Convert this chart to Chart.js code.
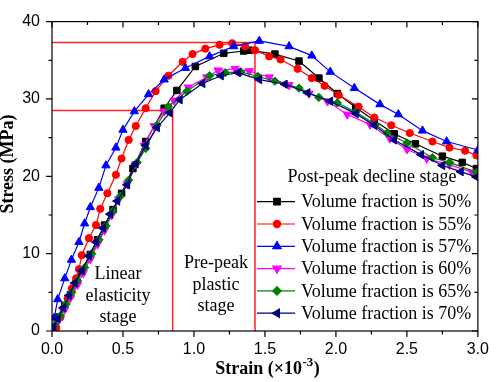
<!DOCTYPE html>
<html>
<head>
<meta charset="utf-8">
<script src="https://cdn.jsdelivr.net/npm/chart.js@4.4.0/dist/chart.umd.min.js"></script>
<style>
    html, body { margin: 0; padding: 0; background: #fff; }
    #wrap { width: 498px; height: 382px; position: relative; }
</style>
</head>
<body>
<div id="wrap"><canvas id="chart"></canvas></div>
<script>
// Stress-strain curves, strain in 10^-3, stress in MPa
const seriesLabels = [
    "Volume fraction is 50%",
    "Volume fraction is 55%",
    "Volume fraction is 57%",
    "Volume fraction is 60%",
    "Volume fraction is 65%",
    "Volume fraction is 70%",
];

const strain50 = [0.02, 0.05, 0.09, 0.13, 0.17, 0.21, 0.27, 0.32, 0.37, 0.43, 0.49, 0.57, 0.66, 0.79, 0.88, 1.01, 1.21, 1.35, 1.39, 1.57, 1.74, 1.88, 2.01, 2.14, 2.27, 2.41, 2.56, 2.75, 2.89, 2.99];
const stress50 = [0.5, 1.8, 3.3, 4.7, 6.2, 7.7, 9.9, 11.8, 13.7, 15.7, 17.8, 21.0, 24.5, 28.8, 31.1, 34.2, 35.9, 36.2, 36.3, 35.8, 34.9, 32.7, 30.7, 28.9, 27.2, 25.5, 24.2, 22.6, 21.8, 21.0];

const strain55 = [0.03, 0.06, 0.08, 0.11, 0.14, 0.17, 0.19, 0.21, 0.26, 0.31, 0.34, 0.39, 0.45, 0.49, 0.54, 0.59, 0.66, 0.73, 0.82, 0.92, 0.99, 1.08, 1.18, 1.27, 1.36, 1.43, 1.53, 1.61, 1.73, 1.83, 1.92, 2.02, 2.16, 2.27, 2.39, 2.52, 2.68, 2.80, 2.91, 2.99];
const stress55 = [0.4, 1.8, 2.9, 4.2, 5.5, 6.8, 8.0, 9.8, 12.0, 13.7, 15.8, 17.8, 20.2, 22.3, 24.7, 26.5, 28.8, 31.0, 33.0, 34.8, 35.8, 36.5, 37.0, 37.2, 36.8, 36.3, 35.5, 35.1, 33.9, 32.7, 31.7, 30.5, 29.0, 27.6, 26.6, 25.6, 24.5, 23.7, 23.3, 22.7];

const strain57 = [0.016, 0.04, 0.09, 0.137, 0.19, 0.23, 0.27, 0.33, 0.38, 0.45, 0.50, 0.58, 0.68, 0.79, 0.94, 1.11, 1.28, 1.46, 1.67, 1.83, 1.96, 2.13, 2.31, 2.44, 2.61, 2.78, 3.0];
const stress57 = [1.7, 4.1, 6.8, 9.2, 11.5, 13.9, 16.0, 18.5, 21.4, 23.7, 26.0, 28.4, 30.6, 32.5, 34.0, 35.5, 36.8, 37.5, 36.8, 35.6, 33.5, 31.4, 29.3, 28.0, 25.9, 24.5, 23.4];

const strain60 = [0.02, 0.05, 0.09, 0.13, 0.18, 0.22, 0.27, 0.32, 0.37, 0.42, 0.47, 0.53, 0.59, 0.65, 0.72, 0.79, 0.86, 0.96, 1.09, 1.17, 1.29, 1.39, 1.53, 1.67, 1.81, 1.94, 2.08, 2.24, 2.38, 2.50, 2.64, 2.80, 2.96];
const stress60 = [0.6, 1.5, 2.8, 4.3, 6.0, 7.5, 9.3, 11.2, 13.0, 15.0, 17.0, 19.0, 21.6, 24.0, 26.5, 28.4, 29.8, 31.5, 32.8, 33.7, 33.9, 33.6, 32.8, 31.8, 30.7, 29.7, 28.0, 26.7, 24.9, 23.5, 22.3, 21.5, 20.5];

const strain65 = [0.02, 0.06, 0.10, 0.14, 0.18, 0.23, 0.28, 0.33, 0.38, 0.43, 0.48, 0.54, 0.60, 0.66, 0.74, 0.82, 0.95, 1.11, 1.22, 1.33, 1.45, 1.57, 1.74, 1.88, 2.01, 2.14, 2.28, 2.36, 2.50, 2.68, 2.80, 2.99];
const stress65 = [0.8, 2.0, 3.5, 5.0, 6.5, 8.2, 10.0, 11.8, 13.6, 15.5, 17.4, 19.5, 21.8, 23.6, 26.6, 29.0, 31.0, 33.0, 33.4, 33.5, 32.9, 32.3, 31.4, 30.2, 29.5, 28.3, 26.7, 25.6, 24.3, 22.4, 21.8, 20.5];

const strain70 = [0.01, 0.04, 0.08, 0.12, 0.16, 0.21, 0.26, 0.31, 0.36, 0.41, 0.46, 0.53, 0.59, 0.66, 0.74, 0.83, 0.90, 1.06, 1.19, 1.31, 1.46, 1.64, 1.80, 1.96, 2.14, 2.27, 2.41, 2.60, 2.75, 2.88, 2.99];
const stress70 = [0.5, 1.6, 3.0, 4.6, 6.2, 7.8, 9.7, 11.5, 13.3, 15.1, 16.8, 18.9, 21.6, 24.0, 26.3, 28.2, 29.9, 32.0, 33.0, 33.4, 32.5, 31.9, 30.8, 29.7, 28.1, 26.6, 24.7, 22.8, 21.4, 20.6, 19.9];

// stage boundaries (red guide lines)
const yieldStrain = 0.85;
const yieldStress = 28.5;
const peakStrain = 1.43;
const peakStress = 37.3;

const strainTicks = [0, 0.5, 1.0, 1.5, 2.0, 2.5, 3.0];
const stressTicks = [0, 10, 20, 30, 40];

const stageLabels = [
    { lines: ["Linear", "elasticity", "stage"], x: 118, y: 279 },
    { lines: ["Pre-peak", "plastic", "stage"], x: 216, y: 268 },
];
const legendTitle = "Post-peak decline stage";

const SERIF = "'Liberation Serif', 'Times New Roman', serif";
const SANS = "'Liberation Sans', Arial, sans-serif";

const toPoints = (xs, ys) => xs.map((x, i) => ({ x, y: ys[i] }));

const styles = [
    { color: "#000000", pointStyle: "rect", radius: 4.6, rotation: 0 },
    { color: "#ff0000", pointStyle: "circle", radius: 3.6, rotation: 0 },
    { color: "#0000ff", pointStyle: "triangle", radius: 4.8, rotation: 0 },
    { color: "#ff00ff", pointStyle: "triangle", radius: 4.8, rotation: 180 },
    { color: "#008000", pointStyle: "rectRot", radius: 4.2, rotation: 0 },
    { color: "#000080", pointStyle: "triangle", radius: 4.8, rotation: -90 },
];
const curves = [
    toPoints(strain50, stress50),
    toPoints(strain55, stress55),
    toPoints(strain57, stress57),
    toPoints(strain60, stress60),
    toPoints(strain65, stress65),
    toPoints(strain70, stress70),
];

const datasets = curves.map((data, i) => ({
    label: seriesLabels[i],
    data,
    showLine: true,
    borderColor: styles[i].color,
    backgroundColor: styles[i].color,
    borderWidth: 1.2,
    pointStyle: styles[i].pointStyle,
    pointRadius: styles[i].radius,
    pointRotation: styles[i].rotation,
    pointBorderWidth: 1,
    order: 5 - i,
}));

const guide = (data) => ({
    label: "",
    data,
    showLine: true,
    borderColor: "#ff2020",
    borderWidth: 1.5,
    pointRadius: 0,
    order: 10,
    isGuide: true,
});
datasets.push(guide([
    { x: 0, y: peakStress }, { x: peakStrain, y: peakStress }, { x: peakStrain, y: 0 },
]));
datasets.push(guide([
    { x: 0, y: yieldStress }, { x: yieldStrain, y: yieldStress }, { x: yieldStrain, y: 0 },
]));

const framePlugin = {
    id: "frame",
    afterDatasetsDraw(chart) {
        const { ctx, chartArea: a, scales } = chart;
        const xs = scales.x;
        const ys = scales.y;
        ctx.save();
        ctx.strokeStyle = "#000";
        ctx.lineWidth = 1.2;
        ctx.strokeRect(a.left, a.top, a.right - a.left, a.bottom - a.top);

        const majorLen = 6;
        const minorLen = 3.5;
        ctx.beginPath();
        strainTicks.forEach((v, i) => {
            const px = xs.getPixelForValue(v);
            ctx.moveTo(px, a.bottom); ctx.lineTo(px, a.bottom + majorLen);
            ctx.moveTo(px, a.top); ctx.lineTo(px, a.top + majorLen);
            if (i < strainTicks.length - 1) {
                const mx = xs.getPixelForValue((v + strainTicks[i + 1]) / 2);
                ctx.moveTo(mx, a.bottom); ctx.lineTo(mx, a.bottom + minorLen);
                ctx.moveTo(mx, a.top); ctx.lineTo(mx, a.top + minorLen);
            }
        });
        stressTicks.forEach((v, i) => {
            const py = ys.getPixelForValue(v);
            ctx.moveTo(a.left, py); ctx.lineTo(a.left - majorLen, py);
            ctx.moveTo(a.right, py); ctx.lineTo(a.right - majorLen, py);
            if (i < stressTicks.length - 1) {
                const my = ys.getPixelForValue((v + stressTicks[i + 1]) / 2);
                ctx.moveTo(a.left, my); ctx.lineTo(a.left - minorLen, my);
                ctx.moveTo(a.right, my); ctx.lineTo(a.right - minorLen, my);
            }
        });
        ctx.stroke();

        // stage annotations
        ctx.fillStyle = "#000";
        ctx.font = `18px ${SERIF}`;
        ctx.textAlign = "center";
        ctx.textBaseline = "alphabetic";
        for (const s of stageLabels) {
            s.lines.forEach((t, k) => ctx.fillText(t, s.x, s.y + k * 21.5));
        }

        // legend
        ctx.textBaseline = "middle";
        ctx.fillText(legendTitle, 372, 177);
        ctx.textAlign = "left";
        chart.data.datasets.filter((d) => !d.isGuide).forEach((d, i) => {
            const y = 201.7 + i * 22.3;
            ctx.strokeStyle = d.borderColor;
            ctx.fillStyle = d.backgroundColor;
            ctx.lineWidth = 1.2;
            ctx.beginPath();
            ctx.moveTo(257, y);
            ctx.lineTo(295, y);
            ctx.stroke();
            Chart.helpers.drawPoint(ctx, {
                pointStyle: d.pointStyle,
                radius: d.pointRadius,
                rotation: d.pointRotation,
                borderWidth: 1,
            }, 277, y);
            ctx.fillStyle = "#000";
            ctx.fillText(d.label, 301, y + 1);
        });

        // axis titles
        ctx.fillStyle = "#000";
        ctx.font = `bold 18px ${SERIF}`;
        ctx.textBaseline = "alphabetic";
        ctx.save();
        ctx.translate(13, 164);
        ctx.rotate(-Math.PI / 2);
        ctx.textAlign = "center";
        ctx.fillText("Stress (MPa)", 0, 0);
        ctx.restore();

        const main = "Strain (\u00d710";
        const sup = "-3";
        const close = ")";
        ctx.textAlign = "left";
        const wMain = ctx.measureText(main).width;
        const wClose = ctx.measureText(close).width;
        ctx.font = `bold 13px ${SERIF}`;
        const wSup = ctx.measureText(sup).width;
        let x0 = 267 - (wMain + wSup + wClose) / 2;
        const base = 374;
        ctx.font = `bold 18px ${SERIF}`;
        ctx.fillText(main, x0, base);
        ctx.font = `bold 13px ${SERIF}`;
        ctx.fillText(sup, x0 + wMain + 0.5, base - 8);
        ctx.font = `bold 18px ${SERIF}`;
        ctx.fillText(close, x0 + wMain + wSup + 1, base);
        ctx.restore();
    },
};

new Chart(document.getElementById("chart"), {
    type: "scatter",
    data: { datasets },
    options: {
        responsive: true,
        maintainAspectRatio: false,
        animation: false,
        devicePixelRatio: 1,
        layout: { padding: { top: 10, right: 16, left: 0, bottom: 0 } },
        plugins: { legend: { display: false }, tooltip: { enabled: false } },
        scales: {
            x: {
                type: "linear",
                min: 0,
                max: 3,
                afterBuildTicks: (scale) => {
                    scale.ticks = strainTicks.map((value) => ({ value }));
                },
                afterFit: (scale) => { scale.height = 51; },
                grid: { display: false, drawTicks: false, tickLength: 0 },
                border: { display: false },
                ticks: {
                    padding: 9,
                    color: "#000",
                    font: { family: SANS, size: 16 },
                    callback: (v) => Number(v).toFixed(1),
                },
            },
            y: {
                type: "linear",
                min: 0,
                max: 40,
                afterBuildTicks: (scale) => {
                    scale.ticks = stressTicks.map((value) => ({ value }));
                },
                afterFit: (scale) => { scale.width = 52; },
                grid: { display: false, drawTicks: false, tickLength: 0 },
                border: { display: false },
                ticks: {
                    padding: 12,
                    color: "#000",
                    font: { family: SANS, size: 16 },
                },
            },
        },
    },
    plugins: [framePlugin],
});
</script>
</body>
</html>
